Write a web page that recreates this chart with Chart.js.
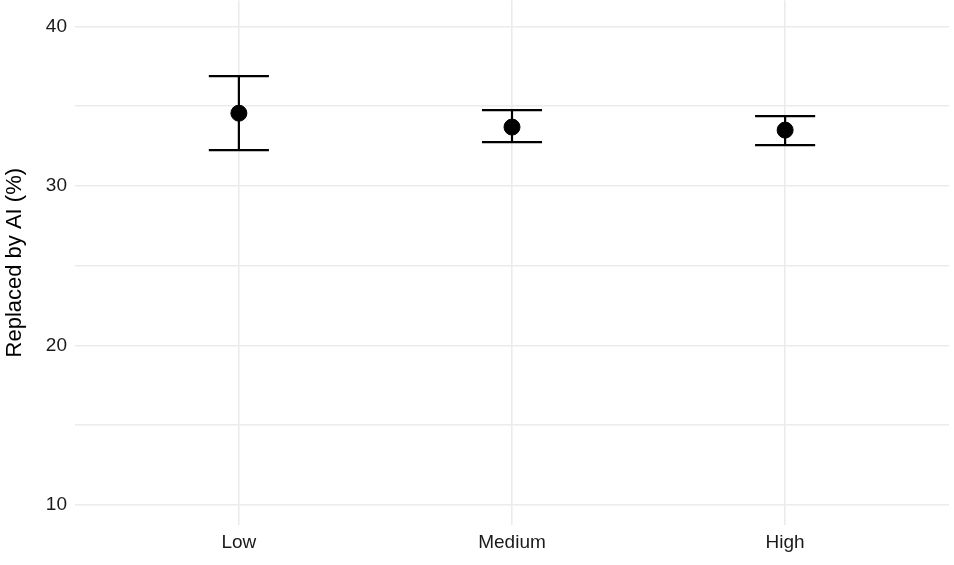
<!DOCTYPE html>
<html><head><meta charset="utf-8">
<script src="https://cdn.jsdelivr.net/npm/chart.js@4/dist/chart.umd.min.js"></script>
<style>html,body{margin:0;padding:0;background:#fff}#o{width:954px;height:565px;overflow:hidden;position:relative}#w{position:absolute;left:0;top:-19px;width:958px;height:584px}</style>
</head><body><div id="o"><div id="w"><canvas id="c"></canvas></div></div>
<script>
const categories = ["Low", "Medium", "High"];
const means = [34.56, 33.69, 33.5];
const lowers = [32.25, 32.75, 32.56];
const uppers = [36.88, 34.75, 34.38];
const yTicks = [10, 20, 30, 40];

const errorBars = {
  id: 'errorBars',
  afterDatasetsDraw(chart) {
    const {ctx, scales: {x, y}} = chart;
    ctx.save();
    ctx.strokeStyle = '#000';
    ctx.lineWidth = 2.2;
    categories.forEach((c, i) => {
      const px = x.getPixelForValue(i);
      const half = x.getPixelForValue(0.11) - x.getPixelForValue(0);
      const yt = y.getPixelForValue(uppers[i]), yb = y.getPixelForValue(lowers[i]);
      ctx.beginPath();
      ctx.moveTo(px, yt); ctx.lineTo(px, yb);
      ctx.moveTo(px - half, yt); ctx.lineTo(px + half, yt);
      ctx.moveTo(px - half, yb); ctx.lineTo(px + half, yb);
      ctx.stroke();
    });
    ctx.restore();
  }
};

new Chart(document.getElementById('c'), {
  type: 'scatter',
  data: { datasets: [{
    data: means.map((m, i) => ({x: i, y: m})),
    backgroundColor: '#000', borderColor: '#000', pointRadius: 8, pointHoverRadius: 8
  }]},
  options: {
    responsive: true, maintainAspectRatio: false, animation: false,
    layout: { padding: 0 },
    plugins: { legend: { display: false }, tooltip: { enabled: false } },
    scales: {
      x: {
        type: 'linear', min: -0.6, max: 2.6,
        afterBuildTicks: a => { a.ticks = [0,1,2].map(v => ({value: v})); },
        afterFit: a => { a.height = 40; },
        ticks: { callback: v => categories[v], color: '#1a1a1a', font: { family: 'Liberation Sans, Arial', size: 19 }, padding: 6 },
        grid: { color: '#ebebeb', lineWidth: 1.6, drawTicks: false },
        border: { display: false }
      },
      y: {
        min: 8.75, max: 41.63,
        afterBuildTicks: a => { a.ticks = [10,15,20,25,30,35,40].map(v => ({value: v})); },
        afterFit: a => { a.width = 75; },
        ticks: { callback: v => yTicks.includes(v) ? String(v) : '', color: '#1a1a1a', font: { family: 'Liberation Sans, Arial', size: 19 }, padding: 8 },
        grid: { color: '#ebebeb', lineWidth: 1.6, drawTicks: false },
        border: { display: false },
        title: { display: true, text: 'Replaced by AI (%)', color: '#000', font: { family: 'Liberation Sans, Arial', size: 22 }, padding: 2 }
      }
    }
  },
  plugins: [errorBars]
});
</script></body></html>
